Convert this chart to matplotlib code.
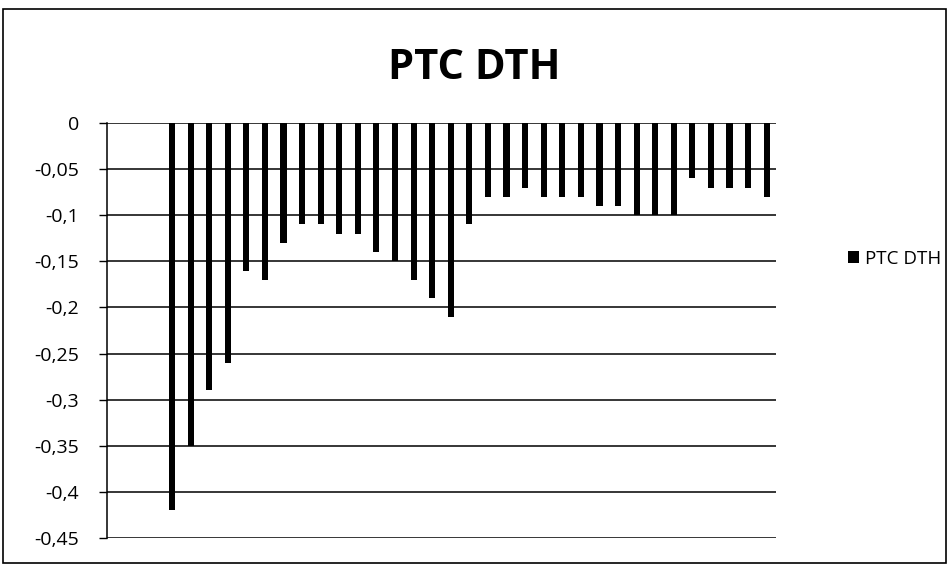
import numpy as np
import matplotlib
matplotlib.use("Agg")
from matplotlib import pyplot as plt
from matplotlib.patches import Rectangle

plt.rcParams['font.family'] = ['Open Sans', 'DejaVu Sans']

# categories (first three have no value)
categories = list(range(1, 37))
ptc_dth = [np.nan, np.nan, np.nan,
           -0.42, -0.35, -0.29, -0.26, -0.16, -0.17, -0.13, -0.11, -0.11,
           -0.12, -0.12, -0.14, -0.15, -0.17, -0.19, -0.21, -0.11, -0.08,
           -0.08, -0.07, -0.08, -0.08, -0.08, -0.09, -0.09, -0.10, -0.10,
           -0.10, -0.06, -0.07, -0.07, -0.07, -0.08]
yticks = [0, -0.05, -0.1, -0.15, -0.2, -0.25, -0.3, -0.35, -0.4, -0.45]
ytick_labels = ['0', '-0,05', '-0,1', '-0,15', '-0,2', '-0,25', '-0,3',
                '-0,35', '-0,4', '-0,45']

fig = plt.figure(figsize=(9.49, 5.69), dpi=100)
ax = fig.add_axes([0.1127, 0.0545, 0.705, 0.7293])

x = np.arange(len(categories))
ax.bar(x, ptc_dth, width=0.33, color='black', label='PTC DTH', zorder=3)

ax.set_xlim(-0.5, len(categories) - 0.5)
ax.set_ylim(-0.45, 0)
ax.set_yticks(yticks)
ax.set_yticklabels(ytick_labels, fontsize=14)
ax.set_xticks([])
ax.tick_params(axis='y', length=6, width=1, direction='out', pad=14)
ax.yaxis.grid(True, color='black', linewidth=1.1, zorder=0)
for s in ['top', 'right', 'bottom']:
    ax.spines[s].set_visible(False)
ax.spines['left'].set_linewidth(1.1)

fig.text(0.5, 0.88, 'PTC DTH', ha='center', va='center',
         fontsize=30, fontweight='bold')

leg = fig.legend(loc='center left', bbox_to_anchor=(0.876, 0.545),
                 frameon=False, fontsize=13.5, handlelength=0.6,
                 handleheight=0.6, handletextpad=0.3)

# outer chart border
fig.patches.append(Rectangle((0.003, 0.01), 0.994, 0.975,
                             transform=fig.transFigure, fill=False,
                             edgecolor='black', linewidth=1.2))

fig.savefig('out.png', dpi=100)
